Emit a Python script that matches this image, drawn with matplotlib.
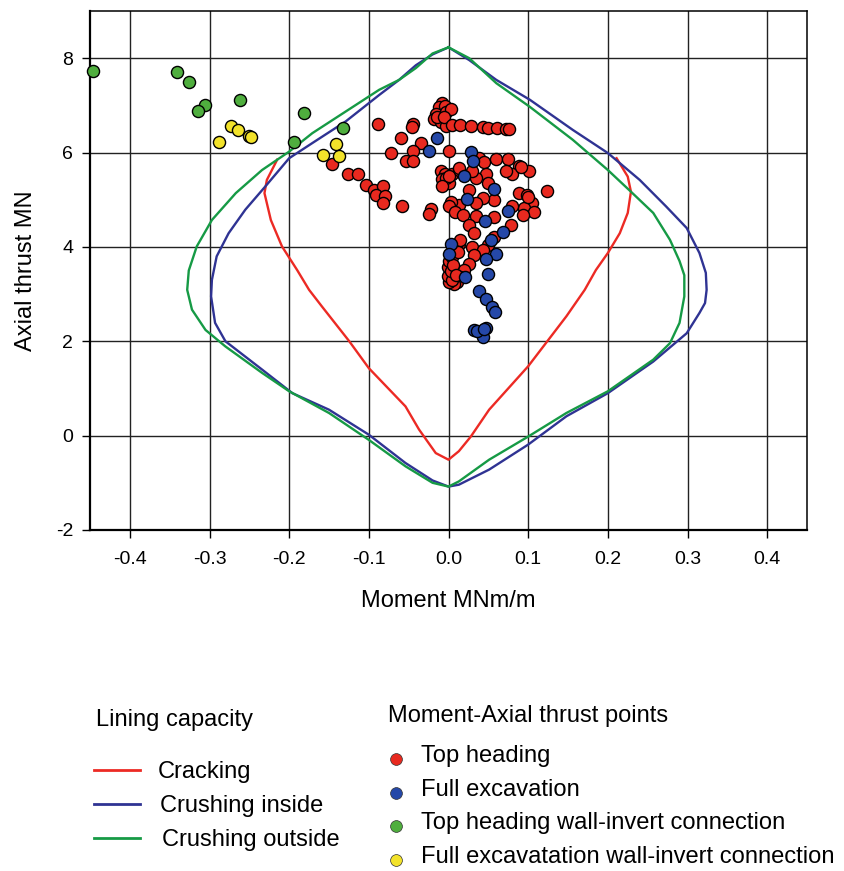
import matplotlib
matplotlib.use("Agg")
import matplotlib.pyplot as plt
from matplotlib.lines import Line2D
from matplotlib.ticker import FormatStrFormatter

plt.rcParams['font.family'] = ['Liberation Sans', 'DejaVu Sans']
plt.rcParams['axes.unicode_minus'] = False

# ---- Lining capacity envelopes (moment MNm/m, axial thrust MN) ----
crack_m = [-0.215, -0.228, -0.231, -0.223, -0.209, -0.190, -0.175, -0.159, -0.125,
           -0.100, -0.054, -0.037, -0.016, 0.000, 0.013, 0.028, 0.051, 0.100,
           0.148, 0.171, 0.185, 0.200, 0.215, 0.225, 0.229, 0.225, 0.211]
crack_n = [5.85, 5.42, 5.14, 4.57, 4.01, 3.51, 3.09, 2.74, 2.01,
           1.43, 0.62, 0.13, -0.37, -0.51, -0.33, -0.02, 0.55, 1.47,
           2.53, 3.09, 3.51, 3.87, 4.29, 4.72, 5.17, 5.49, 5.88]

inside_m = [0.000, -0.020, -0.041, -0.062, -0.087, -0.129, -0.171, -0.200, -0.230,
            -0.255, -0.276, -0.291, -0.297, -0.298, -0.293, -0.280, -0.234, -0.196,
            -0.150, -0.100, -0.054, -0.020, 0.000, 0.013, 0.051, 0.100, 0.148,
            0.200, 0.257, 0.299, 0.315, 0.322, 0.324, 0.323, 0.315, 0.299, 0.273,
            0.240, 0.200, 0.156, 0.102, 0.060, 0.026, 0.000]
inside_n = [8.23, 8.08, 7.85, 7.54, 7.22, 6.66, 6.20, 5.88, 5.28,
            4.79, 4.29, 3.80, 3.30, 2.95, 2.39, 2.00, 1.40, 0.90,
            0.55, 0.02, -0.58, -0.95, -1.08, -1.04, -0.72, -0.19, 0.41,
            0.90, 1.57, 2.17, 2.60, 2.81, 3.09, 3.45, 3.87, 4.40, 4.86,
            5.42, 5.99, 6.48, 7.12, 7.54, 7.96, 8.23]

outside_m = [0.000, -0.020, -0.041, -0.062, -0.087, -0.129, -0.171, -0.200, -0.234,
             -0.267, -0.297, -0.316, -0.326, -0.328, -0.322, -0.305, -0.280, -0.234,
             -0.200, -0.150, -0.100, -0.054, -0.020, 0.000, 0.013, 0.051, 0.100,
             0.148, 0.200, 0.257, 0.278, 0.290, 0.296, 0.296, 0.290, 0.278, 0.257,
             0.229, 0.200, 0.156, 0.102, 0.060, 0.026, 0.000]
outside_n = [8.23, 8.10, 7.79, 7.54, 7.33, 6.87, 6.41, 6.02, 5.63,
             5.14, 4.57, 4.01, 3.50, 3.09, 2.67, 2.24, 1.89, 1.33,
             0.94, 0.48, -0.09, -0.65, -1.00, -1.08, -0.97, -0.51, -0.02,
             0.48, 0.94, 1.61, 1.96, 2.39, 2.95, 3.40, 3.70, 4.15, 4.72,
             5.17, 5.63, 6.27, 6.97, 7.47, 8.00, 8.23]

# ---- Moment-axial thrust points ----
top_m = [-0.146, -0.126, -0.114, -0.103, -0.093, -0.082, -0.091, -0.080, -0.082,
         -0.088, -0.044, -0.046, -0.060, -0.072, -0.035, -0.044, -0.053, -0.045,
         -0.058, -0.022, -0.024,
         -0.008, -0.012, -0.004, -0.016, -0.018, -0.003, -0.010, -0.003, 0.003,
         -0.014, -0.006,
         0.005, 0.015, 0.028, 0.043, 0.049, 0.061, 0.072, 0.076, 0.000,
         -0.010, -0.005, -0.008, 0.001, -0.003, 0.005, 0.013, -0.008, 0.000,
         0.038, 0.045, 0.059, 0.075, 0.088, 0.101, 0.080, 0.072, 0.047, 0.034,
         0.049, 0.026, 0.030, 0.013, 0.124, 0.088, 0.099, 0.105, 0.095, 0.107,
         0.093, 0.080, 0.057, 0.043, 0.034, 0.013, 0.003, 0.001, 0.008, 0.018,
         0.034, 0.057, 0.026, 0.032, 0.079, 0.057, 0.049, 0.030, 0.013, 0.043,
         0.032, 0.026, 0.020, 0.015, 0.011, 0.007, 0.001, -0.001, -0.001, 0.001,
         0.005, 0.009, 0.015, 0.004, 0.003, 0.006, 0.010, 0.012, 0.091, 0.100]
top_n = [5.76, 5.54, 5.54, 5.32, 5.21, 5.29, 5.09, 5.07, 4.94,
         6.60, 6.61, 6.55, 6.31, 6.00, 6.20, 6.03, 5.82, 5.83,
         4.87, 4.81, 4.70,
         7.04, 6.96, 6.98, 6.82, 6.71, 6.86, 6.64, 6.57, 6.93,
         6.76, 6.75,
         6.59, 6.59, 6.57, 6.54, 6.51, 6.51, 6.50, 6.49, 6.04,
         5.61, 5.54, 5.43, 5.36, 5.46, 5.54, 5.64, 5.30, 5.50,
         5.89, 5.80, 5.86, 5.86, 5.71, 5.61, 5.54, 5.61, 5.54, 5.46,
         5.36, 5.21, 5.61, 5.68, 5.18, 5.14, 5.09, 4.93, 4.82, 4.75,
         4.68, 4.86, 5.00, 5.04, 4.93, 4.89, 4.96, 4.86, 4.75, 4.68,
         4.66, 4.64, 4.46, 4.29, 4.46, 4.21, 4.04, 4.00, 4.07, 3.93,
         3.82, 3.64, 3.50, 3.36, 3.25, 3.21, 3.25, 3.39, 3.57, 3.71,
         3.79, 4.00, 4.14, 3.30, 3.48, 3.62, 3.40, 3.90, 5.69, 5.06]

full_m = [-0.015, -0.024, 0.028, 0.031, 0.020, 0.057, 0.023, 0.075, 0.046, 0.068,
          0.003, 0.053, 0.060, 0.000, 0.047, 0.021, 0.050, 0.038, 0.047, 0.054,
          0.058, 0.032, 0.047, 0.043, 0.036, 0.044]
full_n = [6.30, 6.04, 6.01, 5.82, 5.50, 5.23, 5.01, 4.76, 4.55, 4.32,
          4.07, 4.14, 3.86, 3.86, 3.75, 3.37, 3.43, 3.07, 2.89, 2.73,
          2.63, 2.23, 2.29, 2.09, 2.21, 2.25]

top_wall_m = [-0.446, -0.341, -0.326, -0.306, -0.314, -0.262, -0.181, -0.133, -0.194]
top_wall_n = [7.72, 7.70, 7.50, 7.00, 6.88, 7.12, 6.83, 6.52, 6.23]

full_wall_m = [-0.273, -0.264, -0.250, -0.248, -0.288, -0.141, -0.137, -0.158]
full_wall_n = [6.57, 6.47, 6.35, 6.33, 6.23, 6.18, 5.92, 5.95]

x_ticks = [-0.4, -0.3, -0.2, -0.1, 0.0, 0.1, 0.2, 0.3, 0.4]
y_ticks = [-2, 0, 2, 4, 6, 8]

line_labels = ["Cracking", "Crushing inside", "Crushing outside"]
point_labels = ["Top heading", "Full excavation",
                "Top heading wall-invert connection",
                "Full excavatation wall-invert connection"]

RED, BLUE, GREEN = "#ec2a24", "#2f3393", "#169a45"
PT_RED, PT_BLUE, PT_GREEN, PT_YELLOW = "#e8291f", "#2548a8", "#4fae3e", "#f2e22a"

W, H = 844, 871
fig = plt.figure(figsize=(W / 100, H / 100), dpi=100)
ax = fig.add_axes([90 / W, 1 - 530 / H, (807 - 90) / W, (530 - 11) / H])

ax.set_xlim(-0.45, 0.45)
ax.set_ylim(-2, 9)
ax.set_xticks(x_ticks)
ax.set_yticks(y_ticks)
ax.xaxis.set_major_formatter(FormatStrFormatter('%.1f'))
ax.grid(True, color="#222222", linewidth=1.0)
ax.set_axisbelow(True)
ax.tick_params(axis='both', labelsize=14, direction='out', length=6, width=1.0, color='black')
ax.tick_params(axis='x', pad=9)
ax.tick_params(axis='y', pad=6)
for side in ['left', 'bottom']:
    ax.spines[side].set_linewidth(1.6)
for side in ['top', 'right']:
    ax.spines[side].set_linewidth(1.1)

ax.plot(crack_m, crack_n, color=RED, lw=1.7, zorder=3)
ax.plot(inside_m, inside_n, color=BLUE, lw=1.7, zorder=3)
ax.plot(outside_m, outside_n, color=GREEN, lw=1.7, zorder=3)

pt_kw = dict(s=76, edgecolors='black', linewidths=1.0, zorder=4, clip_on=False)
ax.scatter(top_m, top_n, color=PT_RED, **pt_kw)
ax.scatter(full_m, full_n, color=PT_BLUE, **pt_kw)
ax.scatter(top_wall_m, top_wall_n, color=PT_GREEN, **pt_kw)
ax.scatter(full_wall_m, full_wall_n, color=PT_YELLOW, **pt_kw)

ax.set_xlabel("Moment MNm/m", fontsize=17, labelpad=16)
ax.set_ylabel("Axial thrust MN", fontsize=17, labelpad=14)


def fpt(x, y):
    return x / W, 1 - y / H


# Lining capacity key
fig.text(*fpt(96, 720), "Lining capacity", fontsize=17, va='center', ha='left')
for i, (lab, col) in enumerate(zip(line_labels, [RED, BLUE, GREEN])):
    y = 770 + i * 34
    (x0, yy), (x1, _) = fpt(94, y), fpt(140, y)
    fig.add_artist(Line2D([x0, x1], [yy, yy], color=col, lw=2.0, transform=fig.transFigure))
    fig.text(*fpt(158 + 2 * i, y + 2), lab, fontsize=17, va='center', ha='left')

# Moment-axial thrust key
fig.text(*fpt(388, 716), "Moment-Axial thrust points", fontsize=17, va='center', ha='left')
for i, (lab, col) in enumerate(zip(point_labels, [PT_RED, PT_BLUE, PT_GREEN, PT_YELLOW])):
    y = 759 + i * 33.5
    fig.add_artist(Line2D([fpt(396, y)[0]], [fpt(396, y)[1]], marker='o', markersize=8.5,
                          markerfacecolor=col, markeredgecolor='#333333', markeredgewidth=0.5,
                          linestyle='none', transform=fig.transFigure))
    fig.text(*fpt(421, y - 3), lab, fontsize=17.1, va='center', ha='left')

fig.savefig("out.png", dpi=100, facecolor='white')
